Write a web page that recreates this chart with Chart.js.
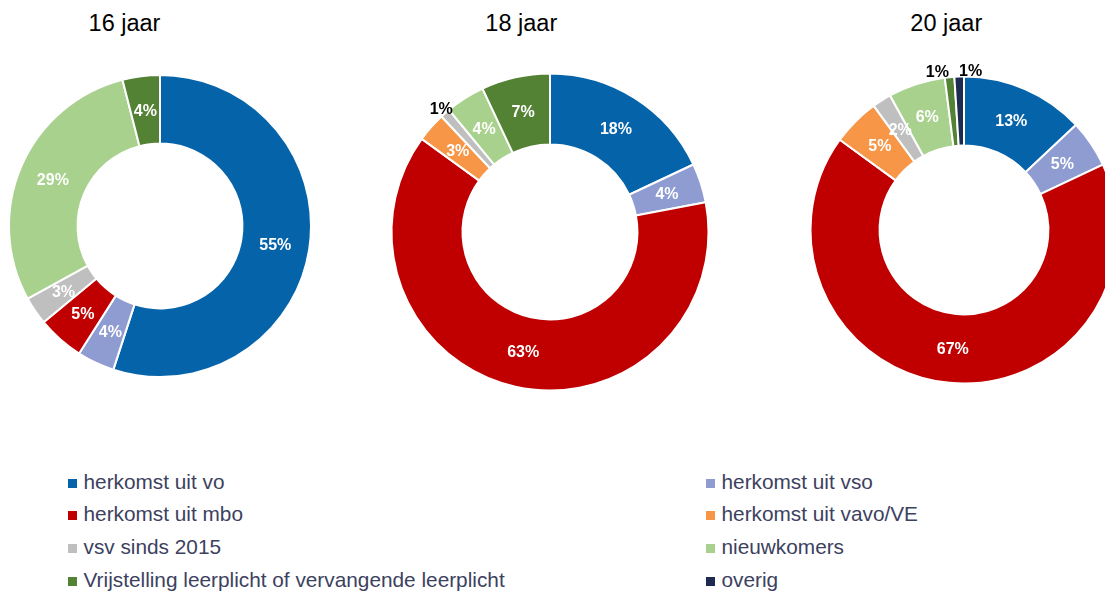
<!DOCTYPE html>
<html>
<head>
<meta charset="utf-8">
<script src="https://cdn.jsdelivr.net/npm/chart.js@4.4.1/dist/chart.umd.min.js"></script>
<style>
html,body{margin:0;padding:0;background:#fff;}
body{width:1105px;height:594px;overflow:hidden;position:relative;font-family:"Liberation Sans",Arial,sans-serif;}
.title{position:absolute;top:11.6px;font-size:23.5px;line-height:1;color:#000;transform:translateX(-50%);white-space:nowrap;}
canvas.pie{position:absolute;}
.leg{position:absolute;font-size:20.8px;line-height:1;color:#3c4160;white-space:nowrap;}
.sq{position:absolute;width:9px;height:9px;}
</style>
</head>
<body>
<div id="titles"></div>
<canvas id="c0" class="pie" width="340" height="340" style="left:-10px;top:56px"></canvas>
<canvas id="c1" class="pie" width="340" height="340" style="left:380px;top:62px"></canvas>
<canvas id="c2" class="pie" width="340" height="340" style="left:794px;top:60px"></canvas>
<div id="legend"></div>
<script>
// ---- data ----
const ages = ['16 jaar', '18 jaar', '20 jaar'];
const categories = [
  'herkomst uit vo',
  'herkomst uit vso',
  'herkomst uit mbo',
  'herkomst uit vavo/VE',
  'vsv sinds 2015',
  'nieuwkomers',
  'Vrijstelling leerplicht of vervangende leerplicht',
  'overig'
];
const values16 = [55, 4, 5, 0, 3, 29, 4, 0];
const values18 = [18, 4, 63, 3, 1, 4, 7, 0];
const values20 = [13, 5, 67, 5, 2, 6, 1, 1];

// ---- styles ----
const colors = ['#0563AA', '#8F9CD1', '#C00000', '#F79646', '#BFBFBF', '#A9D18E', '#548235', '#1F2A50'];
const seriesList = [values16, values18, values20];
const layouts = [
  {radius: 151, cutout: '54.6%', titleX: 124.5},
  {radius: 158.5, cutout: '55.2%', titleX: 521.3},
  {radius: 153.5, cutout: '55%', titleX: 946.3}
];

const labelPlugin = {
  id: 'sliceLabels',
  afterDatasetsDraw(chart) {
    const ctx = chart.ctx;
    const meta = chart.getDatasetMeta(0);
    const data = chart.data.datasets[0].data;
    const items = [];
    meta.data.forEach((arc, i) => {
      const v = data[i];
      if (!v) return;
      const p = arc.getProps(['x', 'y', 'startAngle', 'endAngle', 'innerRadius', 'outerRadius'], true);
      const mid = (p.startAngle + p.endAngle) / 2;
      const outside = v <= 1;
      const r = outside ? p.outerRadius + 6 : (p.innerRadius + p.outerRadius) / 2;
      items.push({x: p.x + Math.cos(mid) * r, y: p.y + Math.sin(mid) * r, text: v + '%', outside});
    });
    ctx.save();
    ctx.font = 'bold 16px "Liberation Sans", Arial, sans-serif';
    items.forEach(it => it.w = ctx.measureText(it.text).width);
    const out = items.filter(i => i.outside).sort((a, b) => a.x - b.x);
    for (let k = 1; k < out.length; k++) {
      const a = out[k - 1], b = out[k];
      const need = (a.w + b.w) / 2 + 10;
      if (Math.abs(a.y - b.y) < 16 && b.x - a.x < need) {
        const d = (need - (b.x - a.x)) / 2;
        a.x -= d; b.x += d;
      }
    }
    ctx.textAlign = 'center';
    ctx.textBaseline = 'middle';
    items.forEach(it => {
      ctx.fillStyle = it.outside ? '#000' : '#fff';
      ctx.fillText(it.text, it.x, it.y + 1);
    });
    ctx.restore();
  }
};

seriesList.forEach((vals, idx) => {
  const L = layouts[idx];
  new Chart(document.getElementById('c' + idx), {
    type: 'doughnut',
    data: {
      labels: categories,
      datasets: [{
        data: vals,
        backgroundColor: colors,
        borderColor: '#ffffff',
        borderWidth: 2
      }]
    },
    options: {
      responsive: false,
      animation: false,
      radius: L.radius,
      cutout: L.cutout,
      layout: {padding: 0},
      plugins: {legend: {display: false}, tooltip: {enabled: false}}
    },
    plugins: [labelPlugin]
  });
  const t = document.createElement('div');
  t.className = 'title';
  t.style.left = L.titleX + 'px';
  t.textContent = ages[idx];
  document.getElementById('titles').appendChild(t);
});

// ---- legend (2 columns, row-major) ----
const legend = document.getElementById('legend');
const colX = [{sq: 68.3, tx: 83.5}, {sq: 705.7, tx: 721.5}];
const rowBase = [489.3, 521.8, 554.5, 587.2];
categories.forEach((name, i) => {
  const col = i % 2, row = Math.floor(i / 2);
  const sq = document.createElement('div');
  sq.className = 'sq';
  sq.style.background = colors[i];
  sq.style.left = colX[col].sq + 'px';
  sq.style.top = (rowBase[row] - 10.5) + 'px';
  legend.appendChild(sq);
  const tx = document.createElement('div');
  tx.className = 'leg';
  tx.style.left = colX[col].tx + 'px';
  tx.style.top = (rowBase[row] - 17.6) + 'px';
  tx.textContent = name;
  legend.appendChild(tx);
});
</script>
</body>
</html>
